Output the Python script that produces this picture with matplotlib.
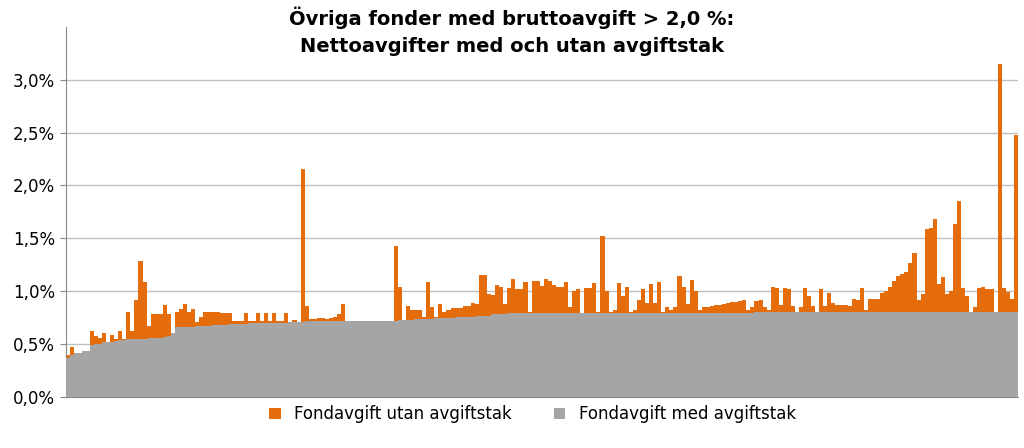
import matplotlib.pyplot as plt
import numpy as np
from matplotlib.ticker import FuncFormatter

# net fee without cap (orange), per fund
fee_no_cap = [
    0.40, 0.47, 0.42, 0.42, 0.43, 0.43, 0.62, 0.58, 0.56, 0.60,
    0.52, 0.59, 0.55, 0.62, 0.55, 0.80, 0.62, 0.92, 1.29, 1.09,
    0.67, 0.78, 0.78, 0.78, 0.87, 0.78, 0.60, 0.80, 0.83, 0.88,
    0.80, 0.83, 0.71, 0.76, 0.80, 0.80, 0.80, 0.80, 0.79, 0.79,
    0.79, 0.72, 0.72, 0.72, 0.79, 0.72, 0.72, 0.79, 0.72, 0.79,
    0.72, 0.79, 0.72, 0.72, 0.79, 0.71, 0.73, 0.71, 2.16, 0.86,
    0.74, 0.74, 0.75, 0.75, 0.74, 0.75, 0.76, 0.78, 0.88, 0.72,
    0.72, 0.72, 0.72, 0.72, 0.72, 0.72, 0.72, 0.72, 0.72, 0.72,
    0.72, 1.43, 1.04, 0.73, 0.86, 0.82, 0.82, 0.82, 0.76, 1.09,
    0.85, 0.76, 0.88, 0.80, 0.82, 0.84, 0.84, 0.84, 0.86, 0.86,
    0.89, 0.88, 1.15, 1.15, 0.97, 0.96, 1.06, 1.04, 0.88, 1.03,
    1.12, 1.02, 1.02, 1.09, 0.80, 1.10, 1.10, 1.05, 1.12, 1.10,
    1.06, 1.04, 1.04, 1.09, 0.85, 1.00, 1.02, 0.79, 1.03, 1.03,
    1.08, 0.80, 1.52, 1.00, 0.80, 0.82, 1.08, 0.95, 1.04, 0.80,
    0.82, 0.92, 1.02, 0.89, 1.07, 0.89, 1.09, 0.80, 0.85, 0.82,
    0.85, 1.14, 1.04, 0.88, 1.11, 1.00, 0.82, 0.85, 0.85, 0.86,
    0.87, 0.87, 0.88, 0.89, 0.90, 0.90, 0.91, 0.92, 0.82, 0.85,
    0.91, 0.92, 0.85, 0.82, 1.04, 1.03, 0.87, 1.03, 1.02, 0.86,
    0.80, 0.85, 1.03, 0.95, 0.86, 0.80, 1.02, 0.86, 0.98, 0.89,
    0.87, 0.87, 0.87, 0.86, 0.93, 0.92, 1.03, 0.82, 0.93, 0.93,
    0.93, 0.98, 1.00, 1.04, 1.10, 1.14, 1.16, 1.18, 1.27, 1.36,
    0.92, 0.97, 1.59, 1.60, 1.68, 1.07, 1.13, 0.97, 1.00, 1.64,
    1.85, 1.03, 0.95, 0.80, 0.85, 1.03, 1.04, 1.02, 1.02, 0.80,
    3.15, 1.03, 0.99, 0.93, 2.48,
]

# net fee with cap (gray)
fee_cap = [
    0.37, 0.40, 0.42, 0.42, 0.43, 0.43, 0.49, 0.50, 0.50, 0.52,
    0.52, 0.52, 0.53, 0.54, 0.54, 0.55, 0.55, 0.55, 0.55, 0.55,
    0.56, 0.56, 0.56, 0.56, 0.57, 0.58, 0.60, 0.66, 0.66, 0.66,
    0.66, 0.66, 0.67, 0.67, 0.67, 0.67, 0.68, 0.68, 0.68, 0.68,
    0.69, 0.69, 0.69, 0.69, 0.69, 0.70, 0.70, 0.70, 0.70, 0.70,
    0.70, 0.70, 0.70, 0.70, 0.70, 0.71, 0.71, 0.71, 0.71, 0.72,
    0.72, 0.72, 0.72, 0.72, 0.72, 0.72, 0.72, 0.72, 0.72, 0.72,
    0.72, 0.72, 0.72, 0.72, 0.72, 0.72, 0.72, 0.72, 0.72, 0.72,
    0.72, 0.72, 0.73, 0.73, 0.73, 0.73, 0.74, 0.74, 0.74, 0.74,
    0.74, 0.75, 0.75, 0.75, 0.75, 0.75, 0.76, 0.76, 0.76, 0.76,
    0.76, 0.77, 0.77, 0.77, 0.77, 0.78, 0.78, 0.78, 0.78, 0.79,
] + [0.79] * 60 + [0.80] * 65

yticks = [0.0, 0.5, 1.0, 1.5, 2.0, 2.5, 3.0]

orange = '#E46C0A'
gray = '#A5A5A5'

fig = plt.figure(figsize=(10.24, 4.48), dpi=100)
ax = fig.add_axes([0.064, 0.114, 0.930, 0.826])

x = np.arange(len(fee_no_cap))
ax.bar(x, fee_no_cap, width=1.0, color=orange, label='Fondavgift utan avgiftstak', zorder=2)
ax.bar(x, fee_cap, width=1.0, color=gray, label='Fondavgift med avgiftstak', zorder=3)

ax.set_xlim(-0.5, len(x) - 0.5)
ax.set_ylim(0, 3.5)
ax.set_yticks(yticks)
ax.yaxis.set_major_formatter(FuncFormatter(lambda v, _: f'{v:.1f}%'.replace('.', ',')))
ax.tick_params(axis='y', labelsize=12, length=4, color='#888888')
ax.set_xticks([])
ax.grid(axis='y', color='#BFBFBF', linewidth=1, zorder=0)
for s in ['top', 'right']:
    ax.spines[s].set_visible(False)
ax.spines['left'].set_color('#888888')
ax.spines['bottom'].set_color('#888888')

fig.text(0.5, 0.93, 'Övriga fonder med bruttoavgift > 2,0 %:\nNettoavgifter med och utan avgiftstak',
         ha='center', va='center', fontsize=14, fontweight='bold', linespacing=1.5)

fig.legend(loc='center', bbox_to_anchor=(0.52, 0.075), ncol=2, frameon=False,
           fontsize=12, handlelength=0.7, handleheight=0.7, columnspacing=2.5)

fig.savefig('out.png')
